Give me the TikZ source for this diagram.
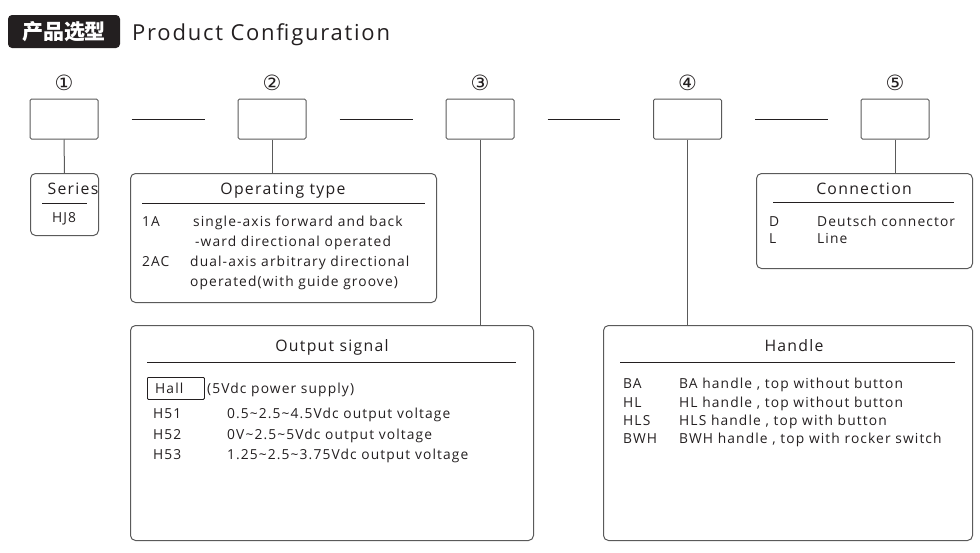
\documentclass[tikz,border=0pt]{standalone}
\usepackage{fontspec}
\setmainfont{Open Sans}[LetterSpace=8]
\newfontfamily\cjkfont{Noto Sans CJK SC}
\newfontfamily\circfont{DejaVu Sans}
\usetikzlibrary{positioning}

\definecolor{inkgray}{HTML}{231F20}
\definecolor{linegray}{HTML}{5A5A5A}

\tikzset{
    codebox/.style={draw=linegray, line width=1pt, rounded corners=1.5pt,
        minimum width=68pt, minimum height=40pt, inner sep=0pt},
    panel/.style={draw=linegray, line width=1pt, rounded corners=5pt,
        inner sep=0pt, anchor=north west},
    link/.style={draw=linegray, line width=1pt},
    sepline/.style={draw=inkgray, line width=0.8pt},
    txt/.style={text=inkgray, inner sep=0pt, anchor=base west,
        font=\fontsize{13.8}{16}\selectfont},
    ttl/.style={text=inkgray, inner sep=0pt, anchor=base,
        font=\fontsize{15.8}{18}\selectfont},
    num/.style={text=inkgray, inner sep=0pt, font=\circfont\fontsize{21}{24}\selectfont},
}

\begin{document}
\begin{tikzpicture}[x=1pt, y=-1pt]
    \useasboundingbox (0,0) rectangle (980,552);

    % heading
    \node[fill=inkgray, rounded corners=4pt, minimum width=112pt, minimum height=33pt,
        inner sep=0pt, text=white, font=\cjkfont\bfseries\fontsize{21}{24}\selectfont]
        (badge) at (64,31.5) {产品选型};
    \node[text=inkgray, inner sep=0pt, anchor=base west, font=\fontsize{22}{26}\selectfont]
        (heading) at (132,40) {Product Configuration};

    % code boxes with numbers
    \foreach \i/\x/\c in {1/64/①, 2/272/②, 3/480/③, 4/687.5/④, 5/895/⑤} {
        \node[codebox] (box\i) at (\x,119) {};
        \node[num] (num\i) at (\x,83) {\c};
    }
    \foreach \a/\b in {1/2, 2/3, 3/4, 4/5}
        \draw[sepline] ([xshift=33pt]box\a.east) -- ([xshift=-33pt]box\b.west);

    % panels
    \node[panel, minimum width=68pt, minimum height=62pt] (series) at (30,173) {};
    \node[panel, minimum width=306pt, minimum height=129pt] (optype) at (130,173) {};
    \node[panel, minimum width=403pt, minimum height=215pt] (output) at (130,325) {};
    \node[panel, minimum width=369pt, minimum height=215pt] (handle) at (603,325) {};
    \node[panel, minimum width=216pt, minimum height=95pt] (connect) at (756,173) {};

    \draw[link] (box1.south) -- (series.north);
    \draw[link] (box2.south) -- (box2.south |- optype.north);
    \draw[link] (box3.south) -- (box3.south |- output.north);
    \draw[link] (box4.south) -- (box4.south |- handle.north);
    \draw[link] (box5.south) -- (box5.south |- connect.north);

    % series
    \node[ttl] (seriesttl) at (73,194) {Series};
    \draw[sepline] (42,203) -- (87,203);
    \node[txt, anchor=base] (hj) at (64,222) {HJ8};

    % operating type
    \node[ttl] (optypettl) at (283,194) {Operating type};
    \draw[sepline] (142,203) -- (425,203);
    \node[txt] at (142,226) {1A};
    \node[txt] at (193,226) {single-axis forward and back};
    \node[txt] at (195,246) {-ward directional operated};
    \node[txt] at (142,266) {2AC};
    \node[txt] at (190,266) {dual-axis arbitrary directional};
    \node[txt] at (190,286) {operated(with guide groove)};

    % output signal
    \node[ttl] (outputttl) at (332,351) {Output signal};
    \draw[sepline] (147,362) -- (516,362);
    \node[draw=inkgray, line width=0.8pt, rounded corners=1pt, inner sep=0pt,
        minimum width=57pt, minimum height=22pt, anchor=north west] (hall) at (147,377) {};
    \node[txt] at (155,393) {Hall};
    \node[txt] at (207,393) {(5Vdc power supply)};
    \node[txt] at (153,418) {H51};
    \node[txt] at (227,418) {0.5\textasciitilde2.5\textasciitilde4.5Vdc output voltage};
    \node[txt] at (153,439) {H52};
    \node[txt] at (227,439) {0V\textasciitilde2.5\textasciitilde5Vdc output voltage};
    \node[txt] at (153,459) {H53};
    \node[txt] at (227,459) {1.25\textasciitilde2.5\textasciitilde3.75Vdc output voltage};

    % handle
    \node[ttl] (handlettl) at (794,351) {Handle};
    \draw[sepline] (620,362) -- (955,362);
    \node[txt] at (623,388) {BA};
    \node[txt] at (679,388) {BA handle , top without button};
    \node[txt] at (623,407) {HL};
    \node[txt] at (679,407) {HL handle , top without button};
    \node[txt] at (623,425) {HLS};
    \node[txt] at (679,425) {HLS handle , top with button};
    \node[txt] at (623,443) {BWH};
    \node[txt] at (679,443) {BWH handle , top with rocker switch};

    % connection
    \node[ttl] (connectttl) at (864,194) {Connection};
    \draw[sepline] (773,202) -- (954,202);
    \node[txt] at (769,226) {D};
    \node[txt] at (817,226) {Deutsch connector};
    \node[txt] at (769,243) {L};
    \node[txt] at (817,243) {Line};
\end{tikzpicture}
\end{document}
